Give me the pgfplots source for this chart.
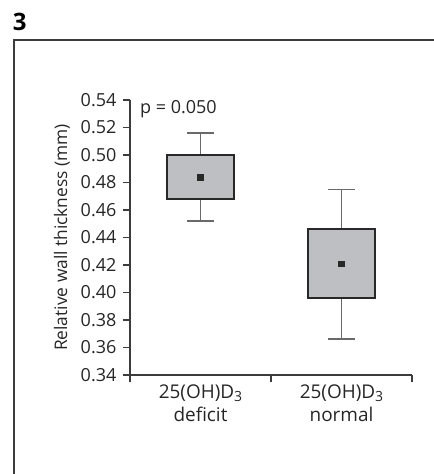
\documentclass[border=0pt]{standalone}
\usepackage{fontspec}
\setmainfont{Open Sans}
\usepackage{pgfplots}
\pgfplotsset{compat=1.18}
\usepgfplotslibrary{statistics}

\definecolor{boxfill}{RGB}{190,191,195}
\definecolor{boxedge}{RGB}{40,40,40}
\definecolor{whisk}{RGB}{105,105,105}
\definecolor{axisgray}{RGB}{60,60,60}

\newcommand{\sub}[1]{\raisebox{-0.25ex}{\fontsize{10.5}{12}\selectfont #1}}

\begin{document}
\fontsize{13.5}{16}\selectfont
\begin{tikzpicture}
% 1 px of the reference = 0.75pt
\useasboundingbox (0pt,0pt) rectangle (325.5pt,355.5pt);
% panel frame
\draw[axisgray, line width=1.1pt] (10.5pt,-1pt) -- (10.5pt,325.5pt) -- (326pt,325.5pt);
\node[anchor=base west, font=\fontsize{18}{20}\selectfont\bfseries, inner sep=0pt] at (9.5pt,332.5pt) {3};

\begin{axis}[
    at={(97.5pt,74.25pt)}, anchor=south west,
    scale only axis,
    width=211.5pt, height=206.25pt,
    xmin=0, xmax=2,
    ymin=0.34, ymax=0.54,
    axis lines=left,
    axis line style={-, axisgray, line width=0.8pt},
    tick style={axisgray, line width=0.8pt},
    tick align=outside,
    major tick length=5.5pt,
    ytick={0.34,0.36,...,0.541},
    yticklabel style={/pgf/number format/.cd, fixed, fixed zerofill, precision=2},
    /pgf/number format/assume math mode=true,
    tick label style={font=\fontsize{13.5}{16}\selectfont, text=black!85},
    xtick={0,1,2},
    xticklabels={},
    extra x ticks={0.5,1.5},
    extra x tick labels={25(OH)D\sub{3}\\deficit, 25(OH)D\sub{3}\\normal},
    extra x tick style={major tick length=0pt,
        tick label style={align=center, yshift=-3pt, font=\fontsize{14.2}{17}\selectfont}},
    ylabel={Relative wall thickness (mm)},
    ylabel style={font=\fontsize{13}{16}\selectfont, text=black!85, yshift=-1pt},
    boxplot/draw direction=y,
    clip=false,
]
\addplot[boxedge,
    boxplot prepared={draw position=0.5, lower whisker=0.452, lower quartile=0.468,
        median=0.468, upper quartile=0.500, upper whisker=0.516, average=0.484,
        box extend=0.475, whisker extend=0.19},
    boxplot/every box/.style={draw=boxedge, fill=boxfill, line width=1.2pt},
    boxplot/every whisker/.style={draw=whisk, line width=1.3pt},
    boxplot/every median/.style={draw=none},
    boxplot/every average/.style={/tikz/mark=square*, /tikz/mark size=2.1pt, /tikz/fill=black, /tikz/draw=black},
] coordinates {};
\addplot[boxedge,
    boxplot prepared={draw position=1.5, lower whisker=0.366, lower quartile=0.396,
        median=0.396, upper quartile=0.446, upper whisker=0.475, average=0.421,
        box extend=0.475, whisker extend=0.19},
    boxplot/every box/.style={draw=boxedge, fill=boxfill, line width=1.2pt},
    boxplot/every whisker/.style={draw=whisk, line width=1.3pt},
    boxplot/every median/.style={draw=none},
    boxplot/every average/.style={/tikz/mark=square*, /tikz/mark size=2.1pt, /tikz/fill=black, /tikz/draw=black},
] coordinates {};
\node[anchor=west, inner sep=0pt, text=black!85] at (axis cs:0.07,0.5335) {p = 0.050};
\end{axis}
\end{tikzpicture}
\end{document}
